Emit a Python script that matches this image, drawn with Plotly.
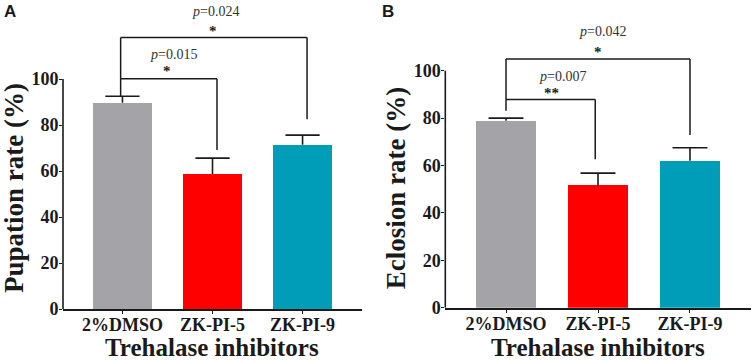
import plotly.graph_objects as go

categories = ["2%DMSO", "ZK-PI-5", "ZK-PI-9"]
colors = ["#a4a3a8", "#ff0000", "#009db8"]

pupation_mean = [89.7, 58.7, 71.4]
pupation_err = [2.8, 6.9, 4.2]
eclosion_mean = [78.9, 51.6, 62.0]
eclosion_err = [1.1, 5.2, 5.5]

y_ticks = [0, 20, 40, 60, 80, 100]

# significance brackets: (left x, right x, bracket y, left drop y, right drop y, p text, stars,
#                         p text y, stars y, p text x, stars x)
brackets_a = [
    (-0.02, 1.05, 100.1, 92.3, 69.1, "<i>p</i>=0.015", "*", 110.6, 103.4, 0.57, 0.5),
    (-0.02, 2.05, 118.0, 100.1, 82.5, "<i>p</i>=0.024", "*", 129.2, 121.0, 1.03, 1.0),
]
brackets_b = [
    (0.0, 0.97, 87.9, 83.1, 62.6, "<i>p</i>=0.007", "**", 97.4, 90.4, 0.61, 0.49),
    (0.0, 2.0, 104.9, 87.9, 72.9, "<i>p</i>=0.042", "*", 116.4, 108.0, 1.05, 1.0),
]

W, H = 754, 360
SERIF = "Liberation Serif, Times New Roman, serif"
INK = "#1a1a1a"

fig = go.Figure()

panels = [
    dict(xa="x", ya="y", mean=pupation_mean, err=pupation_err, brackets=brackets_a,
         title="Pupation rate (%)", xdom=[63 / W, 362 / W], y0px=309, ppu=2.3, letter="A", lx=9.5),
    dict(xa="x2", ya="y2", mean=eclosion_mean, err=eclosion_err, brackets=brackets_b,
         title="Eclosion rate (%)", xdom=[445.3 / W, 750.7 / W], y0px=307.7, ppu=2.37, letter="B", lx=388),
]

xs = list(range(len(categories)))
cap = 0.19

shapes = []
annotations = []
layout_axes = {}
for i, p in enumerate(panels):
    fig.add_trace(go.Bar(
        x=xs, y=p["mean"], xaxis=p["xa"], yaxis=p["ya"],
        marker=dict(color=colors, line=dict(width=0)),
        width=0.655, showlegend=False, hoverinfo="skip",
    ))
    # upper error bars (stem + cap) built from means and errors
    ex, ey = [], []
    for xi, m, e in zip(xs, p["mean"], p["err"]):
        ex += [xi, xi, None, xi - cap, xi + cap, None]
        ey += [m, m + e, None, m + e, m + e, None]
    fig.add_trace(go.Scatter(
        x=ex, y=ey, mode="lines", xaxis=p["xa"], yaxis=p["ya"],
        line=dict(color=INK, width=1.6), showlegend=False, hoverinfo="skip",
    ))
    suffix = "" if i == 0 else "2"
    ymax = p["y0px"] / p["ppu"]
    layout_axes["xaxis" + suffix] = dict(
        domain=p["xdom"], anchor=p["ya"], range=[-0.66, 2.66],
        tickvals=xs, ticktext=categories,
        showline=True, linecolor=INK, linewidth=1.6,
        ticks="outside", ticklen=3, tickwidth=1.2, tickcolor=INK,
        showgrid=False, zeroline=False, automargin=False,
        ticklabelstandoff=-4,
        tickfont=dict(family=SERIF, size=18, color=INK, weight="bold"),
    )
    layout_axes["yaxis" + suffix] = dict(
        domain=[(H - p["y0px"]) / H, 1.0], anchor=p["xa"], range=[0, ymax],
        showline=False, tickvals=y_ticks,
        ticks="outside", ticklen=3, tickwidth=1.4, tickcolor=INK,
        showgrid=False, zeroline=False, automargin=False,
        ticklabelstandoff=-3,
        tickfont=dict(family=SERIF, size=18, color=INK, weight="bold"),
    )
    # vertical axis line only up to 100
    shapes.append(dict(type="line", xref=p["xa"] + " domain", yref=p["ya"],
                       x0=0, x1=0, y0=0, y1=100, line=dict(color=INK, width=1.6)))
    for (xl, xr, yb, yl, yr, ptxt, stars, ypt, yst, xpt, xst) in p["brackets"]:
        for seg in [(xl, yl, xl, yb), (xl, yb, xr, yb), (xr, yb, xr, yr)]:
            shapes.append(dict(type="line", xref=p["xa"], yref=p["ya"],
                               x0=seg[0], y0=seg[1], x1=seg[2], y1=seg[3],
                               line=dict(color=INK, width=1.5)))
        annotations.append(dict(x=xpt, y=ypt, xref=p["xa"], yref=p["ya"], text=ptxt,
                                showarrow=False, font=dict(family=SERIF, size=14, color="#333333")))
        annotations.append(dict(x=xst, y=yst, xref=p["xa"], yref=p["ya"], text="<b>" + stars + "</b>",
                                showarrow=False, font=dict(family=SERIF, size=15, color=INK)))
    # x axis title
    annotations.append(dict(x=0.5, y=1 - 347 / H, xref=p["xa"] + " domain", yref="paper",
                            xanchor="center", yanchor="middle", showarrow=False,
                            text="<b>Trehalase inhibitors</b>",
                            font=dict(family=SERIF, size=25, color=INK)))
    # y axis title
    annotations.append(dict(x=(p["xdom"][0] * W - 49) / W, y=1 - 188 / H, xref="paper", yref="paper",
                            xanchor="center", yanchor="middle", textangle=-90,
                            text="<b>" + p["title"] + "</b>", showarrow=False,
                            font=dict(family=SERIF, size=27, color=INK)))
    # panel letter
    annotations.append(dict(x=p["lx"] / W, y=1 - 11.7 / H, xref="paper", yref="paper",
                            text="<b>" + p["letter"] + "</b>", showarrow=False,
                            xanchor="center", yanchor="middle",
                            font=dict(family="Liberation Sans, Arial, sans-serif", size=17, color=INK)))

fig.update_layout(
    width=W, height=H, margin=dict(l=0, r=0, t=0, b=0),
    paper_bgcolor="white", plot_bgcolor="white",
    shapes=shapes, annotations=annotations, bargap=0,
    **layout_axes,
)
fig.write_html("out.html", config={"displayModeBar": False},
               post_script="document.body.style.margin='0';")
